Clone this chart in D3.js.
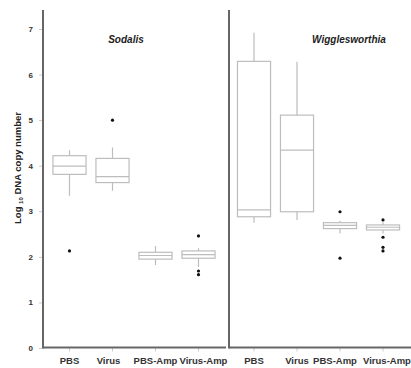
<!DOCTYPE html>
<html>
<head>
<meta charset="utf-8">
<script src="https://cdn.jsdelivr.net/npm/d3@7"></script>
<style>
  body { margin: 0; background: #fff; }
  svg { display: block; font-family: 'Liberation Sans', Arial, sans-serif; }
</style>
</head>
<body>
<div id="chart"></div>
<script>
// panels and categories
const panels = ['Sodalis', 'Wigglesworthia']
const categories = ['PBS', 'Virus', 'PBS-Amp', 'Virus-Amp']
const yTicks = [0, 1, 2, 3, 4, 5, 6, 7]

// box stats per category: [lower whisker, q1, median, q3, upper whisker]
const sodalisBoxes = [
  [3.34, 3.81, 3.99, 4.22, 4.34],
  [3.45, 3.63, 3.76, 4.16, 4.40],
  [1.82, 1.95, 2.03, 2.10, 2.24],
  [1.78, 1.97, 2.05, 2.13, 2.19]
]
const sodalisOutliers = [
  [2.13],
  [5.0],
  [],
  [2.46, 1.69, 1.61]
]
const wiggleBoxes = [
  [2.75, 2.88, 3.03, 6.29, 6.92],
  [2.81, 2.99, 4.34, 5.11, 6.28],
  [2.51, 2.62, 2.69, 2.75, 2.79],
  [2.51, 2.59, 2.65, 2.70, 2.76]
]
const wiggleOutliers = [
  [],
  [],
  [2.99, 1.97],
  [2.81, 2.43, 2.21, 2.13]
]

const width = 411
const height = 368

const svg = d3.select('#chart')
  .append('svg')
  .attr('width', width)
  .attr('height', height)

const y = d3.scaleLinear().domain([0, 7]).range([348, 29])
const spineTop = 10
const spineBottom = 347.5

// label nudges: the source figure doesn't centre every label on its tick
const panelDefs = [
  {name: panels[0], boxes: sodalisBoxes, outliers: sodalisOutliers,
    spineX: 43, range: [48, 220], axisEnd: 226, titleX: 126, labelShift: [0, -4, 0, 5]},
  {name: panels[1], boxes: wiggleBoxes, outliers: wiggleOutliers,
    spineX: 229, range: [232.5, 404.5], axisEnd: 411, titleX: 349, labelShift: [0, 0, -5, 4]}
]

const boxColor = '#bdbdbd'
const spineColor = '#666'

// y axis (left panel only)
const yAxis = svg.append('g')
  .attr('transform', 'translate(43,0)')
  .call(d3.axisLeft(y).tickValues(yTicks).tickFormat(d3.format('d')).tickSize(4).tickPadding(6))
yAxis.select('.domain').remove()
yAxis.selectAll('.tick line').attr('stroke', '#ccc')
yAxis.selectAll('.tick text')
  .attr('fill', '#333')
  .attr('font-size', 8)
  .attr('font-weight', 'bold')
  .attr('font-family', "'Liberation Sans', Arial, sans-serif")

// y label with subscript
svg.append('text')
  .attr('transform', 'translate(21,168) rotate(-90)')
  .attr('text-anchor', 'middle')
  .attr('font-size', 9.5)
  .attr('font-weight', 'bold')
  .attr('fill', '#222')
  .call(t => {
    t.append('tspan').text('Log ')
    t.append('tspan').attr('font-size', 6).attr('dy', 2).text('10')
    t.append('tspan').attr('dy', -2).text(' DNA copy number')
  })

panelDefs.forEach(p => {
  const x = d3.scaleBand().domain(categories).range(p.range).paddingInner(0.23).paddingOuter(0.115)
  const g = svg.append('g')

  // x axis ticks and labels
  const xAxis = g.append('g')
    .attr('transform', `translate(0,${spineBottom})`)
    .call(d3.axisBottom(x).tickSize(4).tickPadding(6))
  xAxis.select('.domain').remove()
  xAxis.selectAll('.tick line').attr('stroke', '#ccc')
  xAxis.selectAll('.tick text')
    .attr('fill', '#333')
    .attr('font-size', 9.5)
    .attr('font-weight', 'bold')
    .attr('font-family', "'Liberation Sans', Arial, sans-serif")
    .attr('dx', (d, i) => p.labelShift[i])

  // boxes
  const bw = x.bandwidth()
  const grp = g.selectAll('.box')
    .data(p.boxes)
    .enter()
    .append('g')
    .attr('class', 'box')
    .attr('transform', (d, i) => `translate(${x(categories[i])},0)`)

  grp.append('line')
    .attr('x1', bw / 2).attr('x2', bw / 2)
    .attr('y1', d => y(d[4])).attr('y2', d => y(d[3]))
    .attr('stroke', boxColor).attr('stroke-width', 1.2)
  grp.append('line')
    .attr('x1', bw / 2).attr('x2', bw / 2)
    .attr('y1', d => y(d[1])).attr('y2', d => y(d[0]))
    .attr('stroke', boxColor).attr('stroke-width', 1.2)
  grp.append('rect')
    .attr('x', 0).attr('width', bw)
    .attr('y', d => y(d[3]))
    .attr('height', d => y(d[1]) - y(d[3]))
    .attr('fill', '#fff')
    .attr('stroke', boxColor).attr('stroke-width', 1.2)
  grp.append('line')
    .attr('x1', 0).attr('x2', bw)
    .attr('y1', d => y(d[2])).attr('y2', d => y(d[2]))
    .attr('stroke', boxColor).attr('stroke-width', 1.2)

  // outliers
  p.outliers.forEach((vals, i) => {
    g.selectAll(null)
      .data(vals)
      .enter()
      .append('circle')
      .attr('cx', x(categories[i]) + bw / 2)
      .attr('cy', d => y(d))
      .attr('r', 1.6)
      .attr('fill', '#111')
  })

  // spines
  g.append('line')
    .attr('x1', p.spineX).attr('x2', p.spineX)
    .attr('y1', spineTop).attr('y2', spineBottom + 1)
    .attr('stroke', spineColor).attr('stroke-width', 2)
  g.append('line')
    .attr('x1', p.spineX).attr('x2', p.axisEnd)
    .attr('y1', spineBottom).attr('y2', spineBottom)
    .attr('stroke', spineColor).attr('stroke-width', 2)

  // panel title
  g.append('text')
    .attr('x', p.titleX).attr('y', 43)
    .attr('text-anchor', 'middle')
    .attr('font-size', 10)
    .attr('font-weight', 'bold')
    .attr('font-style', 'italic')
    .attr('fill', '#222')
    .text(p.name)
})
</script>
</body>
</html>
